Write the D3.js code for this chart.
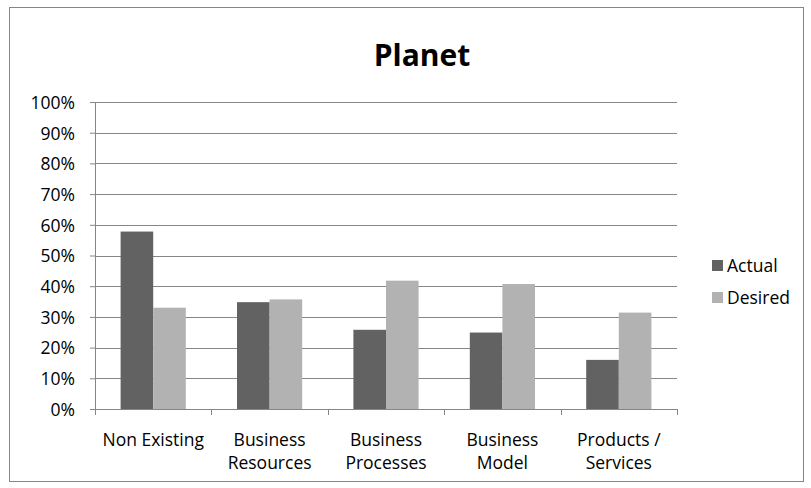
<!DOCTYPE html>
<html>
<head>
<meta charset="utf-8">
<script src="https://cdn.jsdelivr.net/npm/d3@7"></script>
<style>
  body { margin: 0; background: #fff; }
  svg text { font-family: "Open Sans", "Noto Sans", sans-serif; fill: #000; }
</style>
</head>
<body>
<div id="chart"></div>
<script>
// Data
var categories = ["Non Existing", "Business Resources", "Business Processes", "Business Model", "Products / Services"];
var catLines = [["Non Existing"], ["Business", "Resources"], ["Business", "Processes"], ["Business", "Model"], ["Products /", "Services"]];
var actual = [0.578, 0.348, 0.258, 0.249, 0.160];
var desired = [0.330, 0.357, 0.418, 0.407, 0.314];
var seriesNames = ["Actual", "Desired"];
var yTicks = [0, 0.1, 0.2, 0.3, 0.4, 0.5, 0.6, 0.7, 0.8, 0.9, 1.0];

var width = 811, height = 488;
var colors = { Actual: "#626262", Desired: "#b2b2b2" };
var gridColor = "#868686";
var fontSize = "17.5px";

// plot area
var margin = { top: 102, left: 95, right: 134, bottom: 79 };
var plotW = width - margin.left - margin.right;
var plotH = height - margin.top - margin.bottom;

var svg = d3.select("#chart")
  .append("svg")
  .attr("width", width)
  .attr("height", height);

// outer chart border
svg.append("rect")
  .attr("x", 9.5)
  .attr("y", 7.5)
  .attr("width", 794)
  .attr("height", 474)
  .attr("fill", "none")
  .attr("stroke", gridColor)
  .attr("stroke-width", 1);

// title
svg.append("text")
  .attr("x", 422)
  .attr("y", 66)
  .attr("text-anchor", "middle")
  .style("font-size", "30px")
  .style("font-weight", "bold")
  .text("Planet");

var g = svg.append("g")
  .attr("transform", "translate(" + margin.left + "," + margin.top + ")");

var x0 = d3.scaleBand()
  .domain(categories)
  .range([0, plotW])
  .paddingInner(0.44)
  .paddingOuter(0.22);

var x1 = d3.scaleBand()
  .domain(seriesNames)
  .range([0, x0.bandwidth()]);

var y = d3.scaleLinear()
  .domain([0, 1])
  .range([plotH, 0]);

// gridlines
g.append("g")
  .selectAll("line")
  .data(yTicks.slice(1))
  .enter()
  .append("line")
  .attr("x1", 0)
  .attr("x2", plotW)
  .attr("y1", function(d) { return Math.round(y(d)) + 0.5; })
  .attr("y2", function(d) { return Math.round(y(d)) + 0.5; })
  .attr("stroke", gridColor)
  .attr("stroke-width", 1);

// y axis
var yAxis = d3.axisLeft(y)
  .tickValues(yTicks)
  .tickFormat(d3.format(".0%"))
  .tickSize(5)
  .tickPadding(15);

var yg = g.append("g").call(yAxis);
yg.select(".domain").attr("stroke", gridColor);
yg.selectAll(".tick line").attr("stroke", gridColor);
yg.selectAll(".tick text").style("font-size", fontSize).attr("fill", "#000").attr("dy", "0.36em");

// bars
var groups = g.selectAll(".cat")
  .data(categories)
  .enter()
  .append("g")
  .attr("class", "cat")
  .attr("transform", function(d) { return "translate(" + x0(d) + ",0)"; });

groups.selectAll("rect")
  .data(function(d, i) {
    return [{ key: "Actual", value: actual[i] }, { key: "Desired", value: desired[i] }];
  })
  .enter()
  .append("rect")
  .attr("x", function(d) { return x1(d.key); })
  .attr("y", function(d) { return y(d.value); })
  .attr("width", x1.bandwidth())
  .attr("height", function(d) { return plotH - y(d.value); })
  .attr("fill", function(d) { return colors[d.key]; });

// x axis
var step = plotW / categories.length;
var xg = g.append("g").attr("transform", "translate(0," + plotH + ")");
xg.append("line")
  .attr("x1", 0).attr("x2", plotW)
  .attr("y1", 0.5).attr("y2", 0.5)
  .attr("stroke", gridColor);
xg.selectAll(".xtick")
  .data(d3.range(categories.length + 1))
  .enter()
  .append("line")
  .attr("x1", function(i) { return Math.round(i * step) + 0.5; })
  .attr("x2", function(i) { return Math.round(i * step) + 0.5; })
  .attr("y1", 0)
  .attr("y2", 6)
  .attr("stroke", gridColor);

// category labels
xg.selectAll(".xlab")
  .data(catLines)
  .enter()
  .append("text")
  .attr("text-anchor", "middle")
  .style("font-size", fontSize)
  .attr("transform", function(d, i) { return "translate(" + (x0(categories[i]) + x0.bandwidth() / 2) + ",0)"; })
  .selectAll("tspan")
  .data(function(d) { return d; })
  .enter()
  .append("tspan")
  .attr("x", 0)
  .attr("y", function(d, i) { return 37 + i * 23; })
  .text(function(d) { return d; });

// legend
var legend = svg.append("g").attr("transform", "translate(712,260)");
seriesNames.forEach(function(name, i) {
  legend.append("rect")
    .attr("x", 0)
    .attr("y", i * 32)
    .attr("width", 11)
    .attr("height", 11)
    .attr("fill", colors[name]);
  legend.append("text")
    .attr("x", 15)
    .attr("y", i * 32 + 12)
    .style("font-size", fontSize)
    .text(name);
});
</script>
</body>
</html>
